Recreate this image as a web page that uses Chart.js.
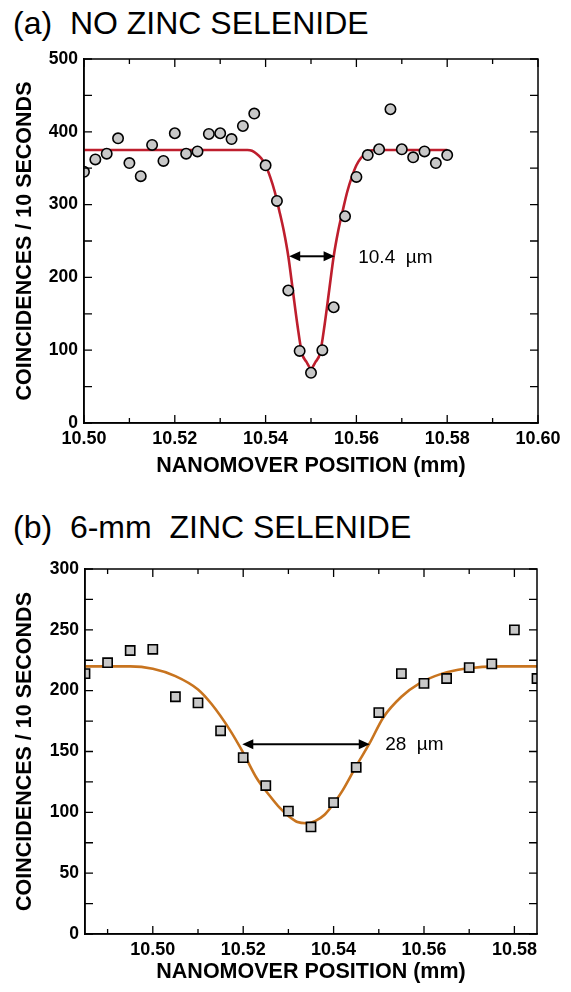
<!DOCTYPE html>
<html>
<head>
<meta charset="utf-8">
<script src="https://cdn.jsdelivr.net/npm/chart.js@4.4.0/dist/chart.umd.min.js"></script>
<style>
  body { margin: 0; width: 571px; height: 992px; background: #fff; position: relative; overflow: hidden;
         font-family: "Liberation Sans", Arial, Helvetica, sans-serif; }
  .panel-title { position: absolute; left: 13px; font-size: 32px; white-space: pre; color: #000; line-height: 1; }
  .box { position: absolute; left: 0; width: 571px; }
</style>
</head>
<body>
<div class="panel-title" style="top:7px">(a)  NO ZINC SELENIDE</div>
<div class="box" style="top:0; height:490px"><canvas id="chartA"></canvas></div>
<div class="panel-title" style="top:511px">(b)  6-mm  ZINC SELENIDE</div>
<div class="box" style="top:496px; height:496px"><canvas id="chartB"></canvas></div>
<script>
// ===== DATI PANNELLO (a): senza ZnSe =====
const posA = [10.5000, 10.5025, 10.5050, 10.5075, 10.5100, 10.5125, 10.5150, 10.5175, 10.5200, 10.5225,
              10.5250, 10.5275, 10.5300, 10.5325, 10.5350, 10.5375, 10.5400, 10.5425, 10.5450, 10.5475,
              10.5500, 10.5525, 10.5550, 10.5575, 10.5600, 10.5625, 10.5650, 10.5675, 10.5700, 10.5725,
              10.5750, 10.5775, 10.5800];
const countsA = [345, 362, 370, 391, 357, 339, 382, 360, 398, 370,
                 373, 397, 398, 390, 408, 425, 354, 305, 182, 99,
                 69, 100, 159, 284, 338, 368, 376, 431, 376, 365,
                 373, 357, 368];
// curva di fit
const fitAX = [10.500, 10.536, 10.537, 10.538, 10.539, 10.540, 10.541, 10.542, 10.543, 10.544,
               10.545, 10.546, 10.547, 10.548, 10.549, 10.550, 10.551, 10.552, 10.553, 10.554,
               10.555, 10.556, 10.557, 10.558, 10.559, 10.560, 10.561, 10.562, 10.563, 10.564, 10.580];
const fitAY = [375, 375, 374, 370, 364, 354, 338, 318, 292, 264,
               229, 182, 135, 96, 84, 75, 84, 96, 135, 182,
               229, 264, 292, 318, 338, 354, 364, 370, 374, 375, 375];
const xTicksA = [10.50, 10.52, 10.54, 10.56, 10.58, 10.60];
const xMinorA = [10.51, 10.53, 10.55, 10.57, 10.59];
const yTicksA = [0, 100, 200, 300, 400, 500];
const yMinorA = [50, 150, 250, 350, 450];
const arrowAX = [10.5452, 10.5552];
const arrowAY = 229;
const noteA = '10.4  \u00b5m';

// ===== DATI PANNELLO (b): 6 mm ZnSe =====
const posB = [10.485, 10.490, 10.495, 10.500, 10.505, 10.510, 10.515, 10.520, 10.525, 10.530, 10.535,
              10.540, 10.545, 10.550, 10.555, 10.560, 10.565, 10.570, 10.575, 10.580, 10.585];
const countsB = [214, 223, 233, 234, 195, 190, 167, 145, 122, 101, 88,
                 108, 137, 182, 214, 206, 210, 219, 222, 250, 210];
const fitBX = [10.485, 10.495, 10.500, 10.505, 10.510, 10.513, 10.517, 10.520, 10.523, 10.526,
               10.528, 10.530, 10.532, 10.534, 10.536, 10.538, 10.540, 10.542, 10.545, 10.548,
               10.551, 10.555, 10.559, 10.564, 10.569, 10.577, 10.585];
const fitBY = [220, 220, 218, 212, 201, 189, 168, 149, 128, 113,
               104, 97, 92, 91, 93, 98, 107, 118, 138, 157,
               178, 195, 206, 214, 218, 220, 220];
const xTicksB = [10.50, 10.52, 10.54, 10.56, 10.58];
const xMinorB = [10.49, 10.51, 10.53, 10.55, 10.57];
const yTicksB = [0, 50, 100, 150, 200, 250, 300];
const yMinorB = [25, 75, 125, 175, 225, 275];
const arrowBX = [10.5198, 10.5480];
const arrowBY = 156;
const noteB = '28  \u00b5m';

const FONT = '"Liberation Sans", Arial, Helvetica, sans-serif';

// Tacche interne su tutti i lati + cornice
const frameTicks = {
    id: 'frameTicks',
    afterDatasetsDraw(chart, args, o) {
        const { ctx, chartArea: a, scales: { x, y } } = chart;
        ctx.save();
        ctx.strokeStyle = '#000';
        ctx.lineWidth = 1.5;
        ctx.strokeRect(a.left, a.top, a.right - a.left, a.bottom - a.top);
        ctx.lineWidth = 1.3;
        const tickX = (v, len) => {
            const px = x.getPixelForValue(v);
            ctx.beginPath();
            ctx.moveTo(px, a.bottom); ctx.lineTo(px, a.bottom - len);
            ctx.moveTo(px, a.top); ctx.lineTo(px, a.top + len);
            ctx.stroke();
        };
        const tickY = (v, len) => {
            const py = y.getPixelForValue(v);
            ctx.beginPath();
            ctx.moveTo(a.left, py); ctx.lineTo(a.left + len, py);
            ctx.moveTo(a.right, py); ctx.lineTo(a.right - len, py);
            ctx.stroke();
        };
        o.xMajor.forEach(v => tickX(v, 8));
        o.xMinor.forEach(v => tickX(v, 5));
        o.yMajor.forEach(v => tickY(v, 8));
        o.yMinor.forEach(v => tickY(v, 8));
        ctx.restore();
    }
};

// Freccia doppia con etichetta della larghezza
const widthArrow = {
    id: 'widthArrow',
    afterDatasetsDraw(chart, args, o) {
        const { ctx, scales: { x, y } } = chart;
        const x1 = x.getPixelForValue(o.xs[0]);
        const x2 = x.getPixelForValue(o.xs[1]);
        const py = y.getPixelForValue(o.y);
        const hl = 11, hw = 5;
        ctx.save();
        ctx.strokeStyle = '#000';
        ctx.fillStyle = '#000';
        ctx.lineWidth = 2;
        ctx.beginPath();
        ctx.moveTo(x1 + hl - 1, py); ctx.lineTo(x2 - hl + 1, py);
        ctx.stroke();
        ctx.beginPath();
        ctx.moveTo(x1, py); ctx.lineTo(x1 + hl, py - hw); ctx.lineTo(x1 + hl, py + hw); ctx.closePath();
        ctx.moveTo(x2, py); ctx.lineTo(x2 - hl, py - hw); ctx.lineTo(x2 - hl, py + hw); ctx.closePath();
        ctx.fill();
        ctx.font = '19px ' + FONT;
        ctx.textAlign = 'left';
        ctx.textBaseline = 'middle';
        ctx.fillText(o.text, x.getPixelForValue(o.textX), py + 1);
        ctx.restore();
    }
};

function buildChart(id, p) {
    return new Chart(document.getElementById(id), {
        type: 'scatter',
        data: {
            datasets: [
                {
                    label: 'misure',
                    data: p.pos.map((v, i) => ({ x: v, y: p.counts[i] })),
                    pointStyle: p.pointStyle,
                    pointRadius: p.pointRadius,
                    pointBackgroundColor: '#c8c8c8',
                    pointBorderColor: '#000',
                    pointBorderWidth: 1.6,
                    showLine: false,
                    clip: 0
                },
                {
                    label: 'fit',
                    data: p.fitX.map((v, i) => ({ x: v, y: p.fitY[i] })),
                    showLine: true,
                    borderColor: p.lineColor,
                    borderWidth: 2.6,
                    pointRadius: 0,
                    cubicInterpolationMode: 'monotone',
                    clip: 0
                }
            ]
        },
        options: {
            responsive: true,
            maintainAspectRatio: false,
            animation: false,
            layout: { padding: p.padding },
            plugins: {
                legend: { display: false },
                tooltip: { enabled: false },
                frameTicks: { xMajor: p.xTicks, xMinor: p.xMinor, yMajor: p.yTicks, yMinor: p.yMinor },
                widthArrow: { xs: p.arrowX, y: p.arrowY, text: p.note, textX: p.noteX }
            },
            scales: {
                x: {
                    type: 'linear',
                    min: p.xMin,
                    max: p.xMax,
                    afterFit: s => { s.height = p.xHeight; },
                    afterBuildTicks: s => { s.ticks = p.xTicks.map(v => ({ value: v })); },
                    grid: { display: false, drawTicks: false },
                    border: { display: true, color: '#000', width: 1.5 },
                    ticks: {
                        color: '#000',
                        padding: 5,
                        maxRotation: 0,
                        autoSkip: false,
                        font: { family: FONT, size: 18, weight: 'bold' },
                        callback: v => v.toFixed(2)
                    },
                    title: {
                        display: true,
                        text: 'NANOMOVER POSITION (mm)',
                        color: '#000',
                        font: { family: FONT, size: 21.5, weight: 'bold' },
                        padding: { top: 0, bottom: p.xTitlePad }
                    }
                },
                y: {
                    type: 'linear',
                    min: p.yMin,
                    max: p.yMax,
                    afterFit: s => { s.width = p.yWidth; },
                    afterBuildTicks: s => { s.ticks = p.yTicks.map(v => ({ value: v })); },
                    grid: { display: false, drawTicks: false },
                    border: { display: true, color: '#000', width: 1.5 },
                    ticks: {
                        color: '#000',
                        padding: 6,
                        font: { family: FONT, size: 17.5, weight: 'bold' },
                        callback: v => String(v)
                    },
                    title: {
                        display: true,
                        text: 'COINCIDENCES / 10 SECONDS',
                        color: '#000',
                        font: { family: FONT, size: 21.5, weight: 'bold' },
                        padding: { top: p.yTitlePad, bottom: 0 }
                    }
                }
            }
        },
        plugins: [frameTicks, widthArrow]
    });
}

buildChart('chartA', {
    pos: posA, counts: countsA, fitX: fitAX, fitY: fitAY,
    pointStyle: 'circle', pointRadius: 5.2, lineColor: '#be1e2d',
    xMin: 10.50, xMax: 10.60, yMin: 0, yMax: 500,
    xTicks: xTicksA, xMinor: xMinorA, yTicks: yTicksA, yMinor: yMinorA,
    arrowX: arrowAX, arrowY: arrowAY, note: noteA, noteX: 10.5604,
    padding: { top: 59, right: 33, left: 0, bottom: 0 },
    xHeight: 67, yWidth: 84, xTitlePad: 11, yTitlePad: 12
});

buildChart('chartB', {
    pos: posB, counts: countsB, fitX: fitBX, fitY: fitBY,
    pointStyle: 'rect', pointRadius: 6.5, lineColor: '#c8741f',
    xMin: 10.485, xMax: 10.585, yMin: 0, yMax: 300,
    xTicks: xTicksB, xMinor: xMinorB, yTicks: yTicksB, yMinor: yMinorB,
    arrowX: arrowBX, arrowY: arrowBY, note: noteB, noteX: 10.5514,
    padding: { top: 73, right: 34, left: 0, bottom: 0 },
    xHeight: 58, yWidth: 85, xTitlePad: 7, yTitlePad: 12
});
</script>
</body>
</html>
